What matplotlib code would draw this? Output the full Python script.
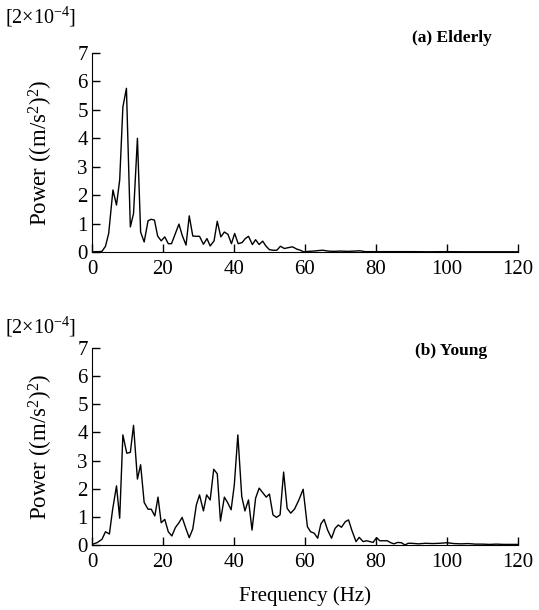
import matplotlib
matplotlib.use('Agg')
import matplotlib.pyplot as plt

plt.rcParams['font.family'] = ['Liberation Serif', 'DejaVu Serif']
plt.rcParams['mathtext.fontset'] = 'custom'
plt.rcParams['mathtext.rm'] = 'Liberation Serif'
plt.rcParams['mathtext.it'] = 'Liberation Serif:italic'

# (a) Elderly spectrum
elderly_freq = [0, 1, 2, 2.8, 3.8, 4.7, 5.9, 6.9, 7.8, 8.7, 9.7, 10.8, 11.7, 12.8, 13.7,
                14.7, 15.8, 16.7, 17.6, 18.5, 19.5, 20.5, 21.5, 22.4, 23.5, 24.5, 25.4,
                26.5, 27.4, 28.4, 29.4, 30.3, 31.4, 32.4, 33.3, 34.4, 35.3, 36.3, 37.3,
                38.3, 39.3, 40.2, 41.2, 42.3, 43.2, 44.1, 45.2, 46.1, 47.1, 48.1, 49.0,
                50.0, 51.0, 52.1, 53.1, 54.2, 55.3, 56.5, 57.7, 58.7, 59.7, 61, 62.5, 64,
                65, 66.5, 68, 70, 72, 74, 75.5, 77, 80, 85, 90, 95, 100, 105, 110, 115, 120]
elderly_power = [0, 0.01, 0.01, 0.02, 0.2, 0.65, 2.18, 1.65, 2.53, 5.1, 5.76, 0.88, 1.35,
                 4.0, 0.7, 0.35, 1.1, 1.15, 1.12, 0.56, 0.39, 0.53, 0.29, 0.29, 0.65, 0.98,
                 0.59, 0.24, 1.27, 0.56, 0.55, 0.55, 0.27, 0.47, 0.21, 0.39, 1.08, 0.53,
                 0.7, 0.62, 0.29, 0.65, 0.29, 0.33, 0.47, 0.55, 0.26, 0.43, 0.26, 0.38,
                 0.21, 0.08, 0.06, 0.06, 0.2, 0.12, 0.15, 0.18, 0.1, 0.06, 0.0, 0.02, 0.03,
                 0.05, 0.06, 0.03, 0.02, 0.03, 0.02, 0.03, 0.04, 0.01, 0.01, 0.01, 0.01,
                 0.005, 0.01, 0.005, 0.005, 0.005, 0.005]

# (b) Young spectrum
young_freq = [0, 1.4, 2.8, 3.8, 4.9, 5.8, 6.9, 7.8, 8.7, 9.8, 10.8, 11.7, 12.8, 13.7, 14.7,
              15.8, 16.7, 17.7, 18.6, 19.5, 20.5, 21.5, 22.5, 23.5, 24.5, 25.4, 26.5, 27.4,
              28.4, 29.4, 30.3, 31.4, 32.3, 33.3, 34.3, 35.3, 36.2, 37.3, 38.2, 39.2, 40.1,
              41.1, 42.2, 43.1, 44.1, 45.1, 46.1, 47.1, 48.1, 49.1, 50.0, 51.0, 52.0, 53.0,
              54.0, 55.0, 56.0, 57.1, 58.3, 59.5, 60.7, 61.6, 62.6, 63.6, 64.5, 65.4, 66.4,
              67.5, 68.5, 69.4, 70.3, 71.4, 72.3, 73.2, 74.4, 75.3, 76.4, 77.4, 78.3, 79.2,
              80.2, 81.1, 82.3, 83.2, 84.2, 85.1, 86.1, 87.2, 88.2, 89.1, 90, 92, 94, 96,
              98, 100, 102, 104, 106, 108, 110, 112, 114, 116, 118, 120]
young_power = [0.02, 0.08, 0.2, 0.47, 0.39, 1.25, 2.1, 0.95, 3.91, 3.26, 3.29, 4.25, 2.34,
               2.85, 1.51, 1.27, 1.27, 1.03, 1.70, 0.79, 0.91, 0.47, 0.32, 0.62, 0.79, 0.98,
               0.57, 0.26, 0.57, 1.42, 1.78, 1.21, 1.78, 1.6, 2.69, 2.53, 0.85, 1.70, 1.51,
               1.25, 2.13, 3.91, 1.72, 1.21, 1.6, 0.53, 1.66, 2.02, 1.86, 1.70, 1.81, 1.07,
               0.98, 1.07, 2.59, 1.30, 1.13, 1.28, 1.6, 1.98, 0.65, 0.47, 0.42, 0.24, 0.75,
               0.91, 0.53, 0.24, 0.59, 0.71, 0.63, 0.83, 0.89, 0.53, 0.12, 0.27, 0.12, 0.15,
               0.12, 0.09, 0.26, 0.15, 0.15, 0.15, 0.08, 0.04, 0.09, 0.08, 0.0, 0.06, 0.06,
               0.04, 0.06, 0.05, 0.06, 0.08, 0.05, 0.04, 0.05, 0.03, 0.03, 0.02, 0.03, 0.02,
               0.02, 0.02]

xticks = [0, 20, 40, 60, 80, 100, 120]
yticks = [0, 1, 2, 3, 4, 5, 6, 7]
ylabel = 'Power ((m/s$^2$)$^2$)'
scale_label = '[2\u00d710$^{-4}$]'

fig = plt.figure(figsize=(5.39, 6.10), dpi=100)
ax1 = fig.add_axes([0.1707, 0.587, 0.790, 0.326])
ax2 = fig.add_axes([0.1707, 0.1066, 0.790, 0.323])

panels = [(ax1, elderly_freq, elderly_power, '(a) Elderly', 0.938, 492),
          (ax2, young_freq, young_power, '(b) Young', 0.425, 487)]

for ax, f, p, title, ty, tx in panels:
    ax.plot(f, p, color='black', lw=1.0)
    ax.set_xlim(0, 120)
    ax.set_ylim(0, 7)
    ax.set_xticks(xticks)
    ax.set_yticks(yticks)
    ax.spines['top'].set_visible(False)
    ax.spines['right'].set_visible(False)
    ax.tick_params(direction='in', length=6, width=1, labelsize=15)
    ax.tick_params(axis='x', pad=6)
    ax.tick_params(axis='y', pad=3)
    ax.set_ylabel(ylabel, fontsize=16.5, labelpad=16)
    fig.text(tx / 539, ty, title, fontsize=12.5, fontweight='bold', ha='right', va='center')

fig.text(5 / 539, 0.972, scale_label, fontsize=14.5, ha='left', va='center')
fig.text(5 / 539, 0.464, scale_label, fontsize=14.5, ha='left', va='center')
ax2.set_xlabel('Frequency (Hz)', fontsize=15, labelpad=10)

plt.savefig('out.png', dpi=100)
plt.close()
